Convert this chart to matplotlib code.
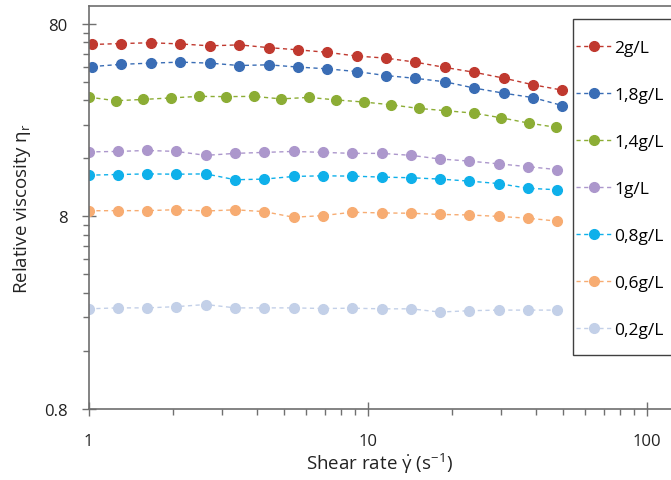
import numpy as np
import matplotlib
import matplotlib.pyplot as plt
from matplotlib.patches import Rectangle
from matplotlib.ticker import FixedLocator, NullFormatter

matplotlib.use("Agg")

plt.rcParams["font.family"] = ["Open Sans", "DejaVu Sans"]
plt.rcParams["mathtext.fontset"] = "custom"
plt.rcParams["mathtext.rm"] = "Open Sans"
plt.rcParams["mathtext.it"] = "Open Sans:italic"

# shear rates (1/s) for each measurement run
shear_a = [1.03, 1.31, 1.67, 2.13, 2.72, 3.46, 4.41, 5.62, 7.16, 9.13,
           11.6, 14.8, 18.9, 24.1, 30.7, 39.1, 49.8]
shear_b = [1.0, 1.27, 1.62, 2.06, 2.63, 3.35, 4.26, 5.42, 6.91, 8.79,
           11.2, 14.3, 18.1, 23.1, 29.4, 37.5, 47.7]
shear_c = [1.0, 1.25, 1.57, 1.98, 2.48, 3.11, 3.90, 4.90, 6.15, 7.71,
           9.68, 12.1, 15.2, 19.1, 24.0, 30.1, 37.8, 47.4]

# relative viscosity per concentration
eta_20 = [62.5, 63.2, 63.8, 62.9, 61.5, 62.2, 60.2, 58.6, 56.9, 54.4,
          53.1, 50.6, 47.5, 44.8, 41.8, 38.6, 36.2]
eta_18 = [48.0, 49.3, 50.0, 50.6, 50.0, 48.6, 49.0, 47.7, 46.7, 45.2,
          43.1, 41.7, 40.0, 37.1, 34.9, 33.1, 30.1]
eta_14 = [33.3, 31.9, 32.4, 33.0, 33.6, 33.5, 33.6, 32.6, 33.2, 32.2,
          31.4, 30.4, 29.1, 28.3, 27.5, 26.0, 24.4, 23.2]
eta_10 = [17.3, 17.4, 17.6, 17.4, 16.6, 17.0, 17.2, 17.4, 17.2, 17.0,
          17.0, 16.6, 15.9, 15.5, 15.0, 14.5, 14.0]
eta_08 = [13.1, 13.2, 13.3, 13.25, 13.3, 12.4, 12.5, 12.9, 13.0, 12.95,
          12.8, 12.7, 12.5, 12.2, 11.85, 11.2, 11.0]
eta_06 = [8.56, 8.57, 8.57, 8.67, 8.53, 8.66, 8.47, 7.92, 8.08, 8.41,
          8.34, 8.31, 8.19, 8.14, 8.0, 7.83, 7.56]
eta_02 = [2.65, 2.68, 2.68, 2.72, 2.79, 2.68, 2.68, 2.68, 2.66, 2.67,
          2.65, 2.65, 2.55, 2.59, 2.61, 2.61, 2.61]

series = [
    ("2g/L", shear_a, eta_20, "#c0392f"),
    ("1,8g/L", shear_a, eta_18, "#3a6db5"),
    ("1,4g/L", shear_c, eta_14, "#8cad35"),
    ("1g/L", shear_b, eta_10, "#ac97cc"),
    ("0,8g/L", shear_b, eta_08, "#0fb0ea"),
    ("0,6g/L", shear_b, eta_06, "#f7ac72"),
    ("0,2g/L", shear_b, eta_02, "#c3d0e8"),
]

W, H = 671, 481
fig = plt.figure(figsize=(W / 100, H / 100), dpi=100)
ax = fig.add_axes([88.7 / W, 1 - 410 / H, 1 - 88.7 / W, (410 - 7) / H])

for label, x, y, c in series:
    ax.plot(x, y, linestyle=(0, (3, 2.5)), lw=1.0, color=c, marker="o",
            markersize=7, markerfacecolor=c, markeredgecolor=c, label=label)

ax.set_xscale("log")
ax.set_yscale("log")
ax.set_xlim(1, 122)
ax.set_ylim(0.8, 99)

ax.xaxis.set_major_locator(FixedLocator([1, 10, 100]))
ax.xaxis.set_minor_locator(FixedLocator([k * 10 ** n for n in (0, 1) for k in range(2, 10)]))
ax.yaxis.set_major_locator(FixedLocator([0.8, 8, 80]))
ax.yaxis.set_minor_locator(FixedLocator([0.8 * k * 10 ** n for n in (0, 1) for k in range(2, 10)]))
ax.set_xticklabels(["1", "10", "100"])
ax.set_yticklabels(["0.8", "8", "80"])
ax.xaxis.set_minor_formatter(NullFormatter())
ax.yaxis.set_minor_formatter(NullFormatter())

ax.tick_params(which="major", direction="inout", length=10, width=1, color="#707070",
               labelsize=12, labelcolor="#222222")
ax.tick_params(axis="x", which="major", pad=12)
ax.tick_params(axis="y", which="major", pad=10)
ax.tick_params(which="minor", direction="out", length=4, width=1, color="#707070")

for side in ("left", "bottom", "top"):
    ax.spines[side].set_color("#6e6e6e")
    ax.spines[side].set_linewidth(1.2)
ax.spines["right"].set_visible(False)

ax.set_xlabel(r"Shear rate $\dot{\mathrm{\gamma}}$ (s$^{-1}$)", fontsize=13.5,
              color="#222222", labelpad=2)
ax.set_ylabel(r"Relative viscosity η$_\mathrm{r}$", fontsize=13.5, color="#222222",
              labelpad=8)

# legend box runs past the right edge of the figure
fig.patches.append(Rectangle((573 / W, 1 - 356 / H), 0.2, (356 - 20) / H,
                             transform=fig.transFigure, facecolor="white",
                             edgecolor="#404040", lw=1.0, zorder=5))
leg = fig.legend(loc="upper left", bbox_to_anchor=(576 / W, 1 - 41 / H),
                 frameon=False, fontsize=12.5, labelspacing=1.78, handlelength=2.1,
                 handletextpad=0.1, borderpad=0, borderaxespad=0, numpoints=1)
leg.set_zorder(6)

fig.savefig("out.png", dpi=100)
